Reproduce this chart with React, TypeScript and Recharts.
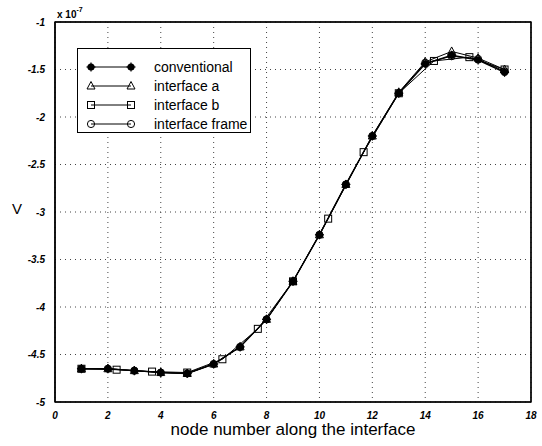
import { LineChart, Line, XAxis, YAxis, CartesianGrid, ReferenceArea } from "recharts";

const xTicks = [0, 2, 4, 6, 8, 10, 12, 14, 16, 18];
const yTicks = [-5, -4.5, -4, -3.5, -3, -2.5, -2, -1.5, -1];

const nodes = [1, 2, 3, 4, 5, 6, 7, 8, 9, 10, 11, 12, 13, 14, 15, 16, 17];
const conventional = [-4.65, -4.65, -4.67, -4.69, -4.7, -4.6, -4.42, -4.13, -3.73, -3.24, -2.71, -2.2, -1.75, -1.44, -1.35, -1.4, -1.53];
const interfaceA = [-4.65, -4.65, -4.67, -4.69, -4.7, -4.6, -4.42, -4.13, -3.73, -3.24, -2.71, -2.2, -1.74, -1.42, -1.31, -1.38, -1.5];
const interfaceFrame = [-4.65, -4.65, -4.67, -4.69, -4.7, -4.6, -4.42, -4.13, -3.73, -3.24, -2.71, -2.2, -1.75, -1.43, -1.36, -1.39, -1.52];

const nodesB = [1, 2.33, 3.67, 5, 6.33, 7.67, 9, 10.33, 11.67, 13, 14.33, 15.67, 17];
const interfaceB = [-4.65, -4.66, -4.68, -4.69, -4.55, -4.23, -3.73, -3.07, -2.37, -1.75, -1.41, -1.37, -1.5];

const toRows = (xs: number[], vs: number[]) => xs.map((x, i) => ({ x, v: vs[i] }));

const AsteriskDot = (p: any) => {
  const { cx, cy } = p;
  if (cx == null || cy == null) return null;
  return (
    <g>
      <circle cx={cx} cy={cy} r={3.6} fill="#000" />
      <line x1={cx - 4.5} y1={cy} x2={cx + 4.5} y2={cy} stroke="#000" strokeWidth={1.2} />
      <line x1={cx} y1={cy - 4.5} x2={cx} y2={cy + 4.5} stroke="#000" strokeWidth={1.2} />
    </g>
  );
};
const TriangleDot = (p: any) => {
  const { cx, cy } = p;
  if (cx == null || cy == null) return null;
  return <polygon points={`${cx},${cy - 4.5} ${cx - 4},${cy + 3} ${cx + 4},${cy + 3}`} fill="none" stroke="#000" strokeWidth={1} />;
};
const SquareDot = (p: any) => {
  const { cx, cy } = p;
  if (cx == null || cy == null) return null;
  return <rect x={cx - 3.5} y={cy - 3.5} width={7} height={7} fill="none" stroke="#000" strokeWidth={1} />;
};
const CircleDot = (p: any) => {
  const { cx, cy } = p;
  if (cx == null || cy == null) return null;
  return <circle cx={cx} cy={cy} r={3.6} fill="none" stroke="#000" strokeWidth={1} />;
};

const legendItems = [
  { name: "conventional", Dot: AsteriskDot },
  { name: "interface a", Dot: TriangleDot },
  { name: "interface b", Dot: SquareDot },
  { name: "interface frame", Dot: CircleDot },
];

const tickStyle = { fontSize: 10, fill: "#000", fontStyle: "italic", fontWeight: "bold" as const };

export default function App() {
  return (
    <div style={{ position: "absolute", left: 0, top: 0, width: 542, height: 446, background: "#fff", fontFamily: "'Liberation Sans', Arial, sans-serif" }}>
      <LineChart width={542} height={446} margin={{ top: 21, right: 10, bottom: 24, left: 15 }}>
        <CartesianGrid stroke="#444" strokeDasharray="1 4" />
        <XAxis xAxisId={0} dataKey="x" type="number" domain={[0, 18]} ticks={xTicks} height={20}
          axisLine={{ stroke: "#000", strokeWidth: 1.2 }} tickLine={false} tickMargin={4} tick={tickStyle} allowDataOverflow />
        <XAxis xAxisId={1} orientation="top" dataKey="x" type="number" domain={[0, 18]} ticks={xTicks} height={1}
          axisLine={{ stroke: "#000" }} tickLine={false} tick={false} />
        <YAxis yAxisId={0} type="number" domain={[-5, -1]} ticks={yTicks} width={40}
          axisLine={{ stroke: "#000", strokeWidth: 1.5 }} tickLine={false} tickMargin={4} tick={tickStyle} allowDataOverflow />
        <YAxis yAxisId={1} orientation="right" type="number" domain={[-5, -1]} ticks={yTicks} width={1}
          axisLine={{ stroke: "#000", strokeWidth: 1.2 }} tickLine={false} tick={false} />
        <ReferenceArea xAxisId={0} yAxisId={0} x1={0} x2={18} y1={-5} y2={-1} fill="none" stroke="#000" strokeWidth={1.3} />
        <Line xAxisId={0} yAxisId={0} data={toRows(nodes, interfaceFrame)} dataKey="v" name="interface frame" stroke="#000" strokeWidth={1} dot={<CircleDot />} isAnimationActive={false} />
        <Line xAxisId={0} yAxisId={0} data={toRows(nodesB, interfaceB)} dataKey="v" name="interface b" stroke="#000" strokeWidth={1} dot={<SquareDot />} isAnimationActive={false} />
        <Line xAxisId={0} yAxisId={0} data={toRows(nodes, interfaceA)} dataKey="v" name="interface a" stroke="#000" strokeWidth={1} dot={<TriangleDot />} isAnimationActive={false} />
        <Line xAxisId={0} yAxisId={0} data={toRows(nodes, conventional)} dataKey="v" name="conventional" stroke="#000" strokeWidth={1.4} dot={<AsteriskDot />} isAnimationActive={false} />
      </LineChart>
      <div style={{ position: "absolute", left: 77, top: 48, width: 174, height: 85, border: "1px solid #000", background: "#fff", boxSizing: "border-box", paddingTop: 8 }}>
        {legendItems.map(({ name, Dot }) => (
          <div key={name} style={{ display: "flex", alignItems: "center", height: 19 }}>
            <svg width={60} height={14} style={{ marginLeft: 6 }}>
              <line x1={7} y1={7} x2={47} y2={7} stroke="#000" strokeWidth={1} />
              <Dot cx={7} cy={7} />
              <Dot cx={47} cy={7} />
            </svg>
            <span style={{ marginLeft: 10, fontSize: 14, color: "#000" }}>{name}</span>
          </div>
        ))}
      </div>
      <div style={{ position: "absolute", left: 57, top: 8, fontSize: 10, fontWeight: "bold", color: "#000" }}>
        x 10<sup style={{ fontSize: 7, position: "relative", top: -2 }}>-7</sup>
      </div>
      <div style={{ position: "absolute", left: 12, top: 200, fontSize: 15, color: "#000" }}>V</div>
      <div style={{ position: "absolute", left: 55, width: 476, top: 420, textAlign: "center", fontSize: 17, color: "#000" }}>
        node number along the interface
      </div>
    </div>
  );
}
